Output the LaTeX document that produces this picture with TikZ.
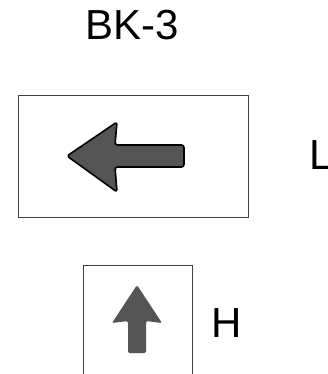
\documentclass[tikz,border=0pt]{standalone}
\usepackage{fontspec}
\setmainfont{Liberation Sans}
\begin{document}
\begin{tikzpicture}[x=1pt,y=-1pt,
  frame/.style={draw=black!75,line width=0.9pt},
  lbl/.style={inner sep=0pt,anchor=base west,font=\fontsize{42}{48}\selectfont},
  arrowfill/.style={fill=black!67}]
\useasboundingbox (0,0) rectangle (327,374);
\node[lbl] (title) at (85,40) {BK-3};
% top box
\node[frame,minimum width=230pt,minimum height=122pt,inner sep=0pt] (boxL) at (133,156) {};
\draw[arrowfill,draw=black,line width=1.6pt,line join=round,rounded corners=2.5pt]
  (67,156) -- (117,122) -- (115,145) -- (184,145) -- (184,167) -- (115,167) -- (117,192) -- cycle;
\node[lbl] (L) at (309,169) {L};
% bottom box (cut by picture edge)
\coordinate (b1) at (83,374);
\coordinate (b2) at (192,374);
\draw[frame] (b1) -- (83,265) -- (192,265) -- (b2);
\path[arrowfill,rounded corners=1.5pt]
  (137,285) -- (162,323) -- (146,321) -- (146,353) -- (128,353) -- (128,321) -- (112,323) -- cycle;
\node[lbl] (H) at (211,337) {H};
\end{tikzpicture}
\end{document}
